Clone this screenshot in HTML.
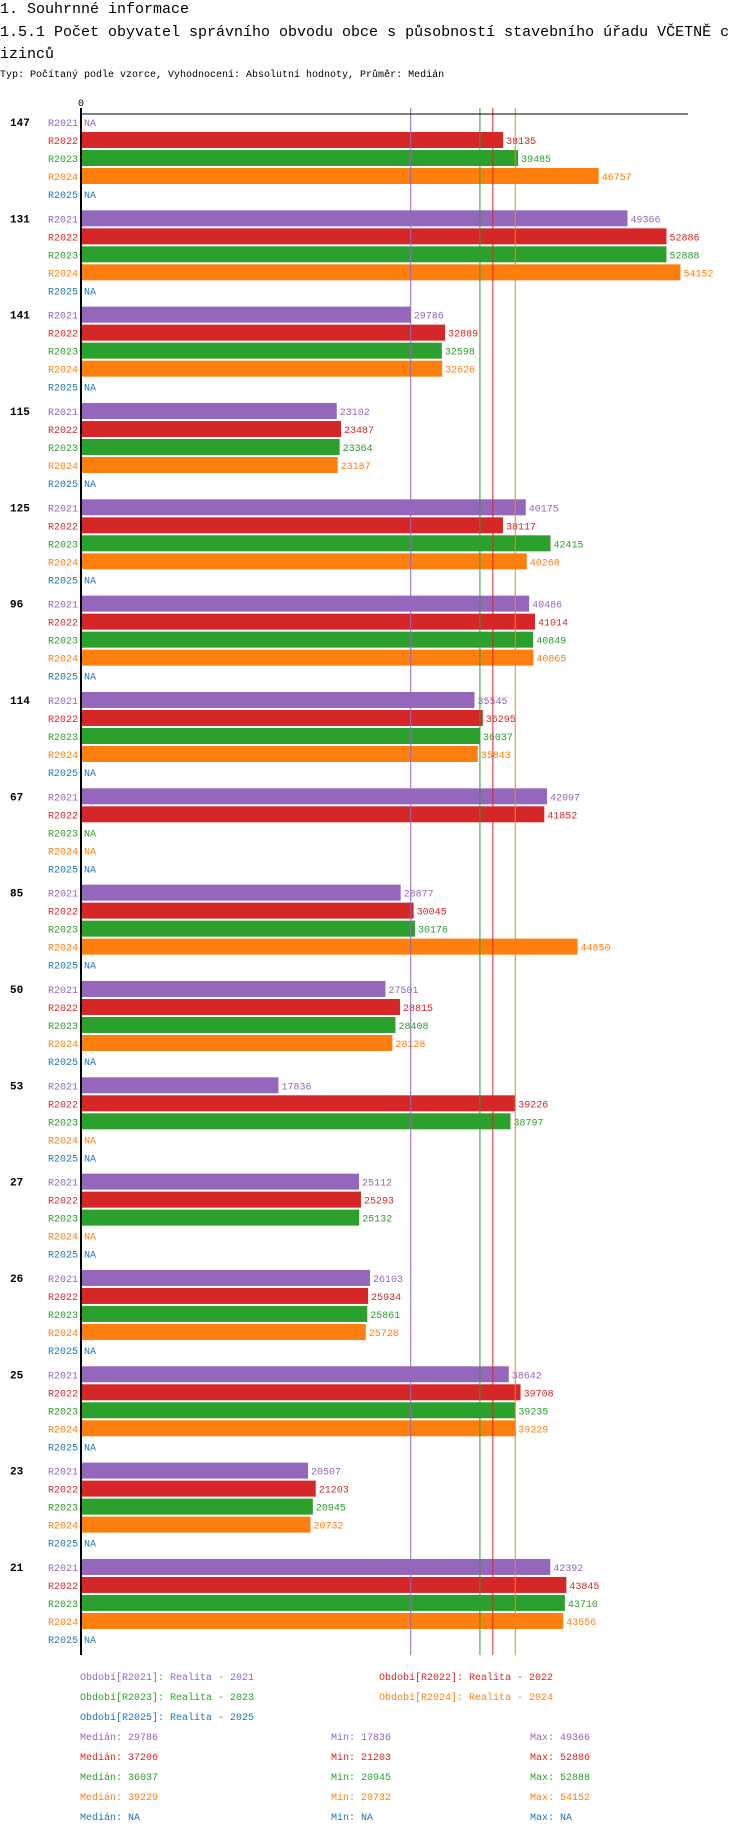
<!DOCTYPE html>
<html><head><meta charset="utf-8">
<style>
body{margin:0;background:#fff;width:750px;height:1830px;overflow:hidden;font-family:"Liberation Mono","DejaVu Sans Mono",monospace;}
svg text{font-family:"Liberation Mono","DejaVu Sans Mono",monospace;}
</style></head>
<body>
<svg id="chart" width="750" height="1830" xmlns="http://www.w3.org/2000/svg">
<text x="0" y="13" font-size="15">1. Souhrnné informace</text>
<text x="0" y="36" font-size="15">1.5.1 Počet obyvatel správního obvodu obce s působností stavebního úřadu VČETNĚ c</text>
<text x="0" y="58" font-size="15">izinců</text>
<text x="0" y="77" font-size="10">Typ: Počítaný podle vzorce, Vyhodnocení: Absolutní hodnoty, Průměr: Medián</text>
<text x="81" y="106" font-size="10" text-anchor="middle">0</text>
<g id="bars"></g>
<g id="medians"></g>
<line x1="81" y1="114" x2="688" y2="114" stroke="#000" stroke-width="1"/>
<line x1="81" y1="108" x2="81" y2="1655" stroke="#000" stroke-width="2"/>
<g id="legend"></g>
</svg>
<script>
const groups = ["147","131","141","115","125","96","114","67","85","50","53","27","26","25","23","21"];
const series = ["R2021","R2022","R2023","R2024","R2025"];
const seriesNames = ["Realita - 2021","Realita - 2022","Realita - 2023","Realita - 2024","Realita - 2025"];
const colors = ["#9467bd","#d62728","#2ca02c","#ff7f0e","#1f77b4"];
const v2021 = [null,49366,29786,23102,40175,40486,35545,42097,28877,27501,17836,25112,26103,38642,20507,42392];
const v2022 = [38135,52886,32889,23487,38117,41014,36295,41852,30045,28815,39226,25293,25934,39708,21203,43845];
const v2023 = [39485,52888,32598,23364,42415,40849,36037,null,30176,28408,38797,25132,25861,39235,20945,43710];
const v2024 = [46757,54152,32626,23187,40268,40865,35843,null,44850,28128,null,null,25728,39229,20732,43556];
const v2025 = [null,null,null,null,null,null,null,null,null,null,null,null,null,null,null,null];
const medians = [29786,37206,36037,39229,null];
const mins = [17836,21203,20945,20732,null];
const maxs = [49366,52886,52888,54152,null];
const values = [v2021,v2022,v2023,v2024,v2025];

const NS="http://www.w3.org/2000/svg";
const x0=81, xScale=0.01107;
const xPos = v => x0 + v*xScale;
const rowTop = (g,i) => 114 + g*96.33 + i*18;
function mk(tag, attrs, parent, txt){
  const e=document.createElementNS(NS,tag);
  for(const k in attrs) e.setAttribute(k,attrs[k]);
  if(txt!==undefined) e.textContent=txt;
  parent.appendChild(e); return e;
}
const barsG=document.getElementById('bars');
groups.forEach((gname,g)=>{
  const gl=mk('text',{x:10,y:rowTop(g,0)+12,'font-size':11,'font-weight':'bold'},barsG,gname);
  
  
  series.forEach((s,i)=>{
    const top=rowTop(g,i);
    const sl=mk('text',{x:78,y:top+12,'font-size':10,'text-anchor':'end',fill:colors[i]},barsG,s);
    
    
    const v=values[i][g];
    if(v===null){
      const na=mk('text',{x:84,y:top+12,'font-size':10,fill:colors[i]},barsG,'NA');
      
      
    } else {
      const r=mk('rect',{x:x0+1,y:top,width:xPos(v)-x0-1,height:16,fill:colors[i]},barsG);
      
      
      const t=mk('text',{x:xPos(v)+3,y:top+12,'font-size':10,fill:colors[i]},barsG,String(v));
      
      
    }
  });
});
const medG=document.getElementById('medians');
medians.forEach((m,i)=>{
  if(m===null) return;
  const l=mk('line',{x1:xPos(m),x2:xPos(m),y1:108,y2:1655,stroke:colors[i],'stroke-width':1},medG);
  
  
});
const legG=document.getElementById('legend');
series.forEach((s,i)=>{
  const x = (i%2===0)?80:379, y=1680+Math.floor(i/2)*20;
  const t=mk('text',{x:x,y:y,'font-size':10,fill:colors[i]},legG,'Období['+s+']: '+seriesNames[i]);
  
  
});
const fmt=v=>v===null?'NA':String(v);
series.forEach((s,i)=>{
  const y=1740+i*20;
  const a=mk('text',{x:80,y:y,'font-size':10,fill:colors[i]},legG,'Medián: '+fmt(medians[i]));
  
  
  const b=mk('text',{x:331,y:y,'font-size':10,fill:colors[i]},legG,'Min: '+fmt(mins[i]));
  
  
  const c=mk('text',{x:530,y:y,'font-size':10,fill:colors[i]},legG,'Max: '+fmt(maxs[i]));
  
  
});
</script>
</body></html>
